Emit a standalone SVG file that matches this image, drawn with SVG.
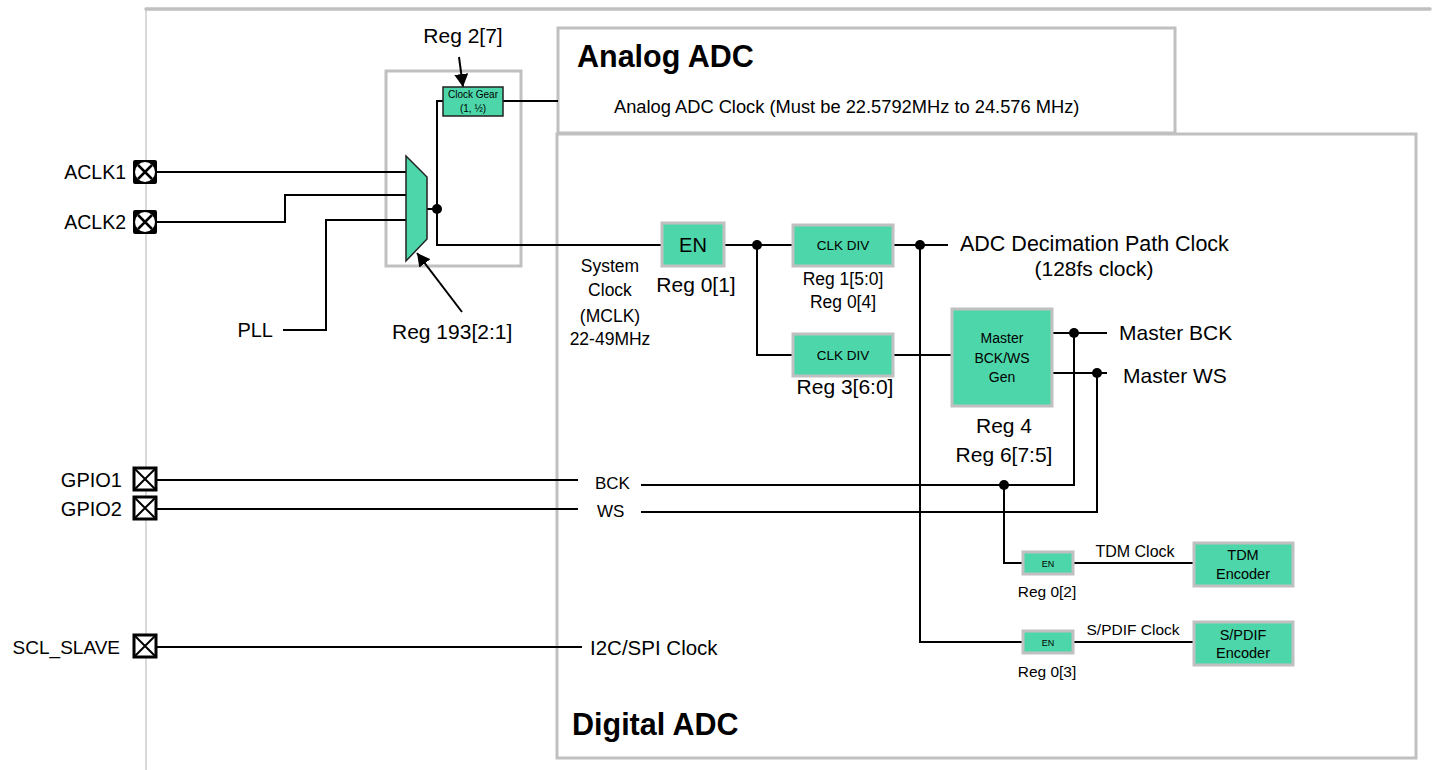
<svg xmlns="http://www.w3.org/2000/svg" width="1432" height="770" viewBox="0 0 1432 770">
<defs>
<style>
text{font-family:"Liberation Sans",Arial,sans-serif;fill:#000}
.frame{fill:#fff;stroke:#c0c0c0;stroke-width:3}
.blk{fill:#4dd6a9;stroke:#c0c0c0;stroke-width:3}
.blk2{fill:#4dd6a9;stroke:#222;stroke-width:1.5}
.w{fill:none;stroke:#000;stroke-width:2}
.dot{fill:#000}
.c{text-anchor:middle}
.e{text-anchor:end}
.t{font-weight:bold;font-size:30.5px}
</style>
<marker id="ah" markerUnits="userSpaceOnUse" markerWidth="14" markerHeight="14" refX="13" refY="7" orient="auto">
<path d="M0,0 L13,7 L0,14 z" fill="#000"/>
</marker>
</defs>
<rect width="1432" height="770" fill="#fff"/>
<g id="page-border">
<line x1="146" y1="9" x2="146" y2="770" stroke="#c0c0c0" stroke-width="1.2"/>
<line x1="146" y1="9" x2="1430" y2="9" stroke="#c0c0c0" stroke-width="3.5" stroke-linecap="round"/>
</g>
<g id="digital-adc">
<rect class="frame" x="557" y="134" width="859" height="624"/>
<text class="t" x="572" y="735">Digital ADC</text>
</g>
<g id="analog-adc">
<rect class="frame" x="558" y="28" width="617" height="105"/>
<text class="t" x="577" y="67">Analog ADC</text>
<text x="614" y="113" font-size="18.3px">Analog ADC Clock (Must be 22.5792MHz to 24.576 MHz)</text>
</g>
<g id="mux-frame">
<rect x="386" y="71" width="135" height="195" fill="none" stroke="#c0c0c0" stroke-width="3"/>
</g>
<g id="connectors">
<polyline class="w" points="157,172 406,172"/>
<polyline class="w" points="157,222 285,222 285,195 406,195"/>
<polyline class="w" points="283,330 326,330 326,220 406,220"/>
<polyline class="w" points="427,209 437,209"/>
<polyline class="w" points="443,101 437,101 437,245 662,245"/>
<polyline class="w" points="503,101 558,101"/>
<line class="w" x1="459" y1="57" x2="463" y2="87" marker-end="url(#ah)" stroke-width="1.5"/>
<line class="w" x1="462" y1="312" x2="417" y2="253" marker-end="url(#ah)" stroke-width="1.5"/>
<polyline class="w" points="724,245 793,245"/>
<polyline class="w" points="757,245 757,355 793,355"/>
<polyline class="w" points="893,245 948,245"/>
<polyline class="w" points="920,245 920,642 1023,642"/>
<polyline class="w" points="893,355 952,355"/>
<polyline class="w" points="1052,333 1107,333"/>
<polyline class="w" points="1052,373 1107,373"/>
<polyline class="w" points="1074,333 1074,485 641,485"/>
<polyline class="w" points="1097,373 1097,512 641,512"/>
<polyline class="w" points="1004,485 1004,563 1023,563"/>
<polyline class="w" points="1073,563 1194,563"/>
<polyline class="w" points="1073,642 1194,642"/>
<polyline class="w" points="157,480 578,480"/>
<polyline class="w" points="157,509 578,509"/>
<polyline class="w" points="157,647 582,647"/>
<circle class="dot" cx="437" cy="209" r="5"/>
<circle class="dot" cx="757" cy="245" r="5"/>
<circle class="dot" cx="920" cy="245" r="5"/>
<circle class="dot" cx="1074" cy="333" r="5"/>
<circle class="dot" cx="1097" cy="373" r="5"/>
<circle class="dot" cx="1004" cy="485" r="5"/>
</g>
<g id="pin-aclk1">
<rect x="133" y="160" width="24" height="24" rx="2" fill="#000"/>
<circle cx="145" cy="172" r="10" fill="#fff"/>
<path d="M138,165 L152,179 M152,165 L138,179" stroke="#000" stroke-width="2.5"/>
<text class="e" x="126" y="179" font-size="19.5px">ACLK1</text>
</g>
<g id="pin-aclk2">
<rect x="133" y="210" width="24" height="24" rx="2" fill="#000"/>
<circle cx="145" cy="222" r="10" fill="#fff"/>
<path d="M138,215 L152,229 M152,215 L138,229" stroke="#000" stroke-width="2.5"/>
<text class="e" x="126" y="229" font-size="19.5px">ACLK2</text>
</g>
<g id="pin-gpio1">
<rect x="134" y="468" width="22" height="22" fill="#fff" stroke="#000" stroke-width="3"/>
<path d="M134,468 L156,490 M156,468 L134,490" stroke="#000" stroke-width="2"/>
<text class="e" x="122" y="487" font-size="20px">GPIO1</text>
</g>
<g id="pin-gpio2">
<rect x="134" y="497" width="22" height="22" fill="#fff" stroke="#000" stroke-width="3"/>
<path d="M134,497 L156,519 M156,497 L134,519" stroke="#000" stroke-width="2"/>
<text class="e" x="122" y="516" font-size="20px">GPIO2</text>
</g>
<g id="pin-scl">
<rect x="134" y="635" width="22" height="22" fill="#fff" stroke="#000" stroke-width="3"/>
<path d="M134,635 L156,657 M156,635 L134,657" stroke="#000" stroke-width="2"/>
<text class="e" x="120" y="654" font-size="19px">SCL_SLAVE</text>
</g>
<g id="pll">
<text class="e" x="273" y="337" font-size="20px">PLL</text>
</g>
<g id="mux">
<polygon class="blk2" points="406,156 427,177 427,239 406,261"/>
<text x="392" y="339" font-size="21px">Reg 193[2:1]</text>
</g>
<g id="clock-gear">
<rect class="blk2" x="443" y="87" width="60" height="29"/>
<text class="c" x="473" y="98" font-size="10px">Clock Gear</text>
<text class="c" x="473" y="112" font-size="10px">(1, ½)</text>
<text class="c" x="463" y="43" font-size="21px">Reg 2[7]</text>
</g>
<g id="sysclk-label">
<text class="c" x="610" y="272" font-size="17.5px">System</text>
<text class="c" x="610" y="296" font-size="17.5px">Clock</text>
<text class="c" x="610" y="322" font-size="17.5px">(MCLK)</text>
<text class="c" x="610" y="345" font-size="17.5px">22-49MHz</text>
</g>
<g id="en-main">
<rect class="blk" x="662" y="223" width="62" height="43"/>
<text class="c" x="693" y="252" font-size="20px">EN</text>
<text class="c" x="696" y="292" font-size="21px">Reg 0[1]</text>
</g>
<g id="clkdiv1">
<rect class="blk" x="793" y="225" width="100" height="41"/>
<text class="c" x="843" y="250" font-size="13.5px">CLK DIV</text>
<text class="c" x="843" y="285" font-size="17.5px">Reg 1[5:0]</text>
<text class="c" x="843" y="308" font-size="17.5px">Reg 0[4]</text>
</g>
<g id="clkdiv2">
<rect class="blk" x="793" y="334" width="100" height="42"/>
<text class="c" x="843" y="360" font-size="13.5px">CLK DIV</text>
<text class="c" x="845" y="394" font-size="21px">Reg 3[6:0]</text>
</g>
<g id="adc-decim">
<text x="960" y="251" font-size="21.5px">ADC Decimation Path Clock</text>
<text class="c" x="1094" y="276" font-size="21px">(128fs clock)</text>
</g>
<g id="master-gen">
<rect class="blk" x="952" y="309" width="100" height="97"/>
<text class="c" x="1002" y="343" font-size="14px">Master</text>
<text class="c" x="1002" y="363" font-size="14px">BCK/WS</text>
<text class="c" x="1002" y="382" font-size="14px">Gen</text>
<text class="c" x="1004" y="433" font-size="21px">Reg 4</text>
<text class="c" x="1004" y="462" font-size="21px">Reg 6[7:5]</text>
<text x="1119" y="340" font-size="21px">Master BCK</text>
<text x="1123" y="383" font-size="21px">Master WS</text>
</g>
<g id="bck-ws">
<text x="595" y="489" font-size="17px">BCK</text>
<text x="597" y="517" font-size="17px">WS</text>
<text x="590" y="655" font-size="20.5px">I2C/SPI Clock</text>
</g>
<g id="tdm-en">
<rect class="blk" x="1023" y="552" width="50" height="22"/>
<text class="c" x="1048" y="567" font-size="9px">EN</text>
<text class="c" x="1047" y="597" font-size="15.5px">Reg 0[2]</text>
<text class="c" x="1135" y="557" font-size="16px">TDM Clock</text>
</g>
<g id="tdm-encoder">
<rect class="blk" x="1194" y="543" width="99" height="43"/>
<text class="c" x="1243" y="560" font-size="14.5px">TDM</text>
<text class="c" x="1243" y="579" font-size="14.5px">Encoder</text>
</g>
<g id="spdif-en">
<rect class="blk" x="1023" y="631" width="50" height="22"/>
<text class="c" x="1048" y="646" font-size="9px">EN</text>
<text class="c" x="1047" y="677" font-size="15.5px">Reg 0[3]</text>
<text class="c" x="1133" y="635" font-size="15.5px">S/PDIF Clock</text>
</g>
<g id="spdif-encoder">
<rect class="blk" x="1194" y="622" width="99" height="43"/>
<text class="c" x="1243" y="640" font-size="14.5px">S/PDIF</text>
<text class="c" x="1243" y="658" font-size="14.5px">Encoder</text>
</g>
</svg>
